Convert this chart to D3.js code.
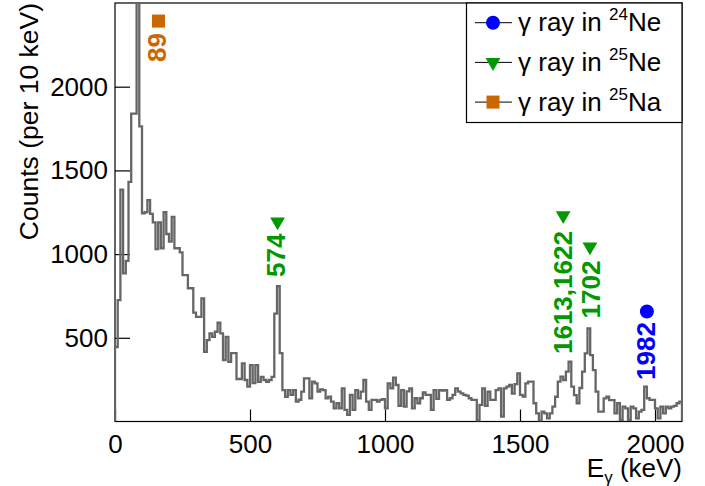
<!DOCTYPE html>
<html>
<head>
<meta charset="utf-8">
<script src="https://cdn.jsdelivr.net/npm/d3@7"></script>
<style>
  body { margin: 0; background: #fff; }
  svg { display: block; font-family: "Liberation Sans", Arial, sans-serif; }
</style>
</head>
<body>
<div id="chart"></div>
<script>
// gamma spectrum, 10 keV bins from 0 to 2100 keV
var binWidth = 10;
var counts = [
  445, 725, 1385, 885, 960, 1431, 1839, 1839, 2700, 1763,
  1243, 1250, 1322, 1240, 1190, 1030, 1190, 1035, 1250, 1120,
  1075, 1222, 1035, 1035, 1010, 874, 874, 796, 796, 650,
  625, 625, 736, 416, 486, 526, 506, 536, 590, 526,
  367, 506, 357, 408, 408, 254, 254, 347, 248, 208,
  337, 229, 337, 237, 267, 248, 237, 248, 267, 645,
  808, 408, 188, 148, 188, 159, 188, 119, 130, 178,
  258, 258, 139, 238, 228, 178, 192, 188, 139, 149,
  119, 79, 109, 79, 198, 69, 39, 159, 69, 188,
  139, 178, 248, 119, 69, 129, 129, 119, 129, 133,
  79, 228, 198, 262, 218, 93, 188, 89, 180, 198,
  79, 139, 109, 139, 174, 159, 159, 69, 188, 135,
  188, 185, 188, 129, 139, 159, 198, 178, 168, 159,
  154, 139, 129, 129, 5, 99, 198, 93, 178, 129,
  129, 188, 198, 29, 198, 208, 218, 166, 223, 288,
  159, 149, 228, 238, 238, 109, 49, 5, 59, 49,
  19, 49, 89, 148, 238, 268, 248, 298, 357, 208,
  158, 109, 200, 298, 407, 556, 397, 307, 178, 59,
  59, 138, 148, 128, 128, 49, 109, 9, 89, 79,
  9, 89, 79, 19, 59, 69, 208, 139, 129, 129,
  79, 19, 89, 49, 89, 79, 89, 93, 109, 119
];

var xTicks = [0, 500, 1000, 1500, 2000];
var yTicks = [500, 1000, 1500, 2000];

// legend: source nucleus of each gamma ray
var legendMass = ["24", "25", "25"];
var legendElement = ["Ne", "Ne", "Na"];

// peak labels (energy text, where text and marker sit in keV / counts, which nucleus)
var peakText    = ["89", "574", "1613,1622", "1702", "1982"];
var peakTextX   = [189, 630, 1691, 1796, 2000];
var peakTextY   = [2148, 863, 403, 616, 248];
var peakMarkX   = [161, 602, 1660, 1759, 1970];
var peakMarkY   = [2392, 1193, 1231, 1044, 657];
var peakSource  = [2, 1, 1, 1, 0];

var width = 705, height = 486;
var margin = {left: 115, right: 23, top: 3, bottom: 64.5};

var colors = ["#0000ff", "#009900", "#cc6600"];
var symbols = [d3.symbolCircle, d3.symbolTriangle, d3.symbolSquare];
var symSize = [154, 95, 170];

var svg = d3.select("#chart").append("svg")
    .attr("width", width)
    .attr("height", height);

var x = d3.scaleLinear()
    .domain([0, 2100])
    .range([margin.left, width - margin.right]);
var y = d3.scaleLinear()
    .domain([0, 2500])
    .range([height - margin.bottom, margin.top]);

svg.append("clipPath").attr("id", "frameClip")
  .append("rect")
    .attr("x", x(0)).attr("y", y(2500))
    .attr("width", x(2100) - x(0)).attr("height", y(0) - y(2500));

// frame
svg.append("rect")
    .attr("x", x(0)).attr("y", y(2500))
    .attr("width", x(2100) - x(0)).attr("height", y(0) - y(2500))
    .attr("fill", "none")
    .attr("stroke", "#000")
    .attr("stroke-width", 1.2);

// axes with inward ticks, ROOT style
var fmt = d3.format("d");
var xAxis = svg.append("g")
    .attr("transform", "translate(0," + y(0) + ")")
    .call(d3.axisBottom(x).tickValues(xTicks).tickFormat(fmt).tickSize(-12).tickPadding(13));
var yAxis = svg.append("g")
    .attr("transform", "translate(" + x(0) + ",0)")
    .call(d3.axisLeft(y).tickValues(yTicks).tickFormat(fmt).tickSize(-15).tickPadding(7));

[xAxis, yAxis].forEach(function(a) {
  a.select(".domain").remove();
  a.selectAll("line").attr("stroke", "#000").attr("stroke-width", 1.2);
  a.selectAll("text")
    .attr("fill", "#000")
    .style("font-family", '"Liberation Sans", Arial, sans-serif')
    .style("font-size", "26px");
});

// histogram outline
var pts = [[0, 0]];
counts.forEach(function(c, i) { pts.push([i * binWidth, c]); });
pts.push([counts.length * binWidth, 0]);

var line = d3.line()
    .x(function(d) { return x(d[0]); })
    .y(function(d) { return y(d[1]); })
    .curve(d3.curveStepAfter);

svg.append("path")
    .datum(pts)
    .attr("clip-path", "url(#frameClip)")
    .attr("d", line)
    .attr("fill", "none")
    .attr("stroke", "#666")
    .attr("stroke-width", 2.3);

// axis titles
svg.append("text")
    .attr("transform", "translate(38," + y(2500) + ") rotate(-90)")
    .attr("text-anchor", "end")
    .style("font-size", "26.5px")
    .text("Counts (per 10 keV)");

var xt = svg.append("text")
    .attr("x", x(2100))
    .attr("y", 477)
    .attr("text-anchor", "end")
    .style("font-size", "26px");
xt.append("tspan").text("E");
xt.append("tspan").attr("dy", 6).style("font-size", "17px").text("γ");
xt.append("tspan").attr("dy", -6).text(" (keV)");

// peak labels
var peaks = svg.append("g").selectAll("g")
    .data(peakText.map(function(t, i) { return i; }))
    .enter().append("g");

peaks.append("text")
    .attr("transform", function(i) {
      return "translate(" + x(peakTextX[i]) + "," + y(peakTextY[i]) + ") rotate(-90)";
    })
    .attr("fill", function(i) { return colors[peakSource[i]]; })
    .style("font-size", "26px")
    .style("font-weight", "bold")
    .text(function(i) { return peakText[i]; });

peaks.append("path")
    .attr("transform", function(i) {
      var s = peakSource[i];
      return "translate(" + x(peakMarkX[i]) + "," + y(peakMarkY[i]) + ")" + (s === 1 ? " rotate(180)" : "");
    })
    .attr("d", function(i) {
      var s = peakSource[i];
      return d3.symbol().type(symbols[s]).size(symSize[s])();
    })
    .attr("fill", function(i) { return colors[peakSource[i]]; });

// legend
var lg = svg.append("g");
lg.append("rect")
    .attr("x", 466.5).attr("y", y(2500))
    .attr("width", x(2100) - 466.5).attr("height", 119.5)
    .attr("fill", "#fff")
    .attr("stroke", "#000")
    .attr("stroke-width", 1.2);

var rows = lg.selectAll(".row")
    .data(legendMass.map(function(m, i) { return i; }))
    .enter().append("g")
      .attr("class", "row")
      .attr("transform", function(i) { return "translate(0," + (22.7 + i * 39.7) + ")"; });

rows.append("line")
    .attr("x1", 475).attr("x2", 512)
    .attr("stroke", "#000").attr("stroke-width", 1);

rows.append("path")
    .attr("transform", function(i) { return "translate(493,0)" + (i === 1 ? " rotate(180)" : ""); })
    .attr("d", function(i) { return d3.symbol().type(symbols[i]).size(symSize[i])(); })
    .attr("fill", function(i) { return colors[i]; });

var lt = rows.append("text")
    .attr("x", 518)
    .attr("y", 8.5)
    .style("font-size", "26px");
lt.append("tspan").text("γ ray in ");
lt.append("tspan").attr("dy", -11).style("font-size", "17px").text(function(i) { return legendMass[i]; });
lt.append("tspan").attr("dy", 11).text(function(i) { return legendElement[i]; });
</script>
</body>
</html>
